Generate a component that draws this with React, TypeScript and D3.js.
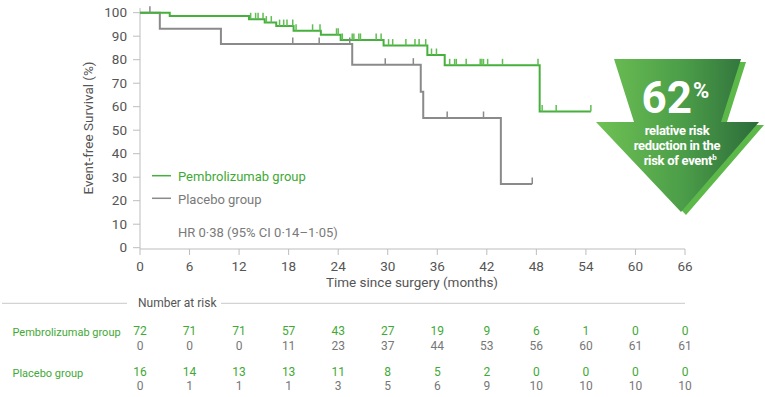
import React from "react";
import * as d3 from "d3";

// Kaplan-Meier steps [month, survival %]
const pembroSteps: [number, number][] = [
  [0, 100], [3.6, 98.6], [13.2, 97.2], [15.1, 95.8], [16.5, 94.3], [18.6, 92.3],
  [21.9, 90.6], [24.3, 88.4], [29.5, 86.0], [34.8, 82.0], [36.9, 77.6], [48.4, 58.0],
];
const pembroEnd = 54.6;
const placeboSteps: [number, number][] = [
  [0, 100], [2.4, 93.2], [9.8, 86.7], [25.7, 77.9], [34.0, 66.4], [34.3, 55.2], [43.7, 27.1],
];
const placeboEnd = 47.5;

const pembroCensor = [
  13.4, 14.0, 14.3, 14.9, 15.3, 15.9, 16.9, 17.4, 17.8, 18.5, 18.9, 20.9, 21.8, 23.8, 24.0,
  24.5, 25.7, 25.9, 26.5, 26.7, 28.6, 29.2, 30.1, 30.6, 32.2, 33.3, 33.8, 34.6, 35.3, 35.9,
  37.5, 38.1, 38.3, 39.5, 41.2, 41.4, 41.6, 42.1, 43.9, 48.2, 48.7, 50.4, 54.6,
];
const placeboCensor = [1.2, 18.5, 21.7, 25.4, 29.7, 33.1, 37.2, 41.6, 47.5];

const xTicks = [0, 6, 12, 18, 24, 30, 36, 42, 48, 54, 60, 66];
const yTicks = [0, 10, 20, 30, 40, 50, 60, 70, 80, 90, 100];

const pembroAtRisk = [72, 71, 71, 57, 43, 27, 19, 9, 6, 1, 0, 0];
const pembroCensored = [0, 0, 0, 11, 23, 37, 44, 53, 56, 60, 61, 61];
const placeboAtRisk = [16, 14, 13, 13, 11, 8, 5, 2, 0, 0, 0, 0];
const placeboCensored = [0, 1, 1, 1, 3, 5, 6, 9, 10, 10, 10, 10];

const GREEN = "#45b03c";
const GREY = "#8a8a8a";
const TEXT = "#555";
const FONT = "Roboto, 'Noto Sans', sans-serif";

const x = d3.scaleLinear().domain([0, 66]).range([140, 685]);
const y = d3.scaleLinear().domain([0, 100]).range([247.7, 12.7]);

function stepValue(steps: [number, number][], t: number) {
  let v = steps[0][1];
  for (const [st, sv] of steps) if (st <= t) v = sv;
  return v;
}

function stepPath(steps: [number, number][], end: number) {
  const pts: [number, number][] = [...steps, [end, steps[steps.length - 1][1]]];
  const line = d3
    .line<[number, number]>()
    .x((d) => x(d[0]))
    .y((d) => y(d[1]))
    .curve(d3.curveStepAfter);
  return line(pts) || "";
}

export default function App() {
  return (
    <svg
      width={765}
      height={397}
      style={{ position: "absolute", left: 0, top: 0, background: "#fff" }}
      fontFamily={FONT}
    >
      <defs>
        <linearGradient id="arrowGrad" x1="0" x2="1" y1="0" y2="0">
          <stop offset="0%" stopColor="#6fc253" />
          <stop offset="55%" stopColor="#4a9c48" />
          <stop offset="100%" stopColor="#2c6b3a" />
        </linearGradient>
      </defs>

      {/* axes */}
      <line x1={140} x2={140} y1={8} y2={249} stroke="#bdbdbd" strokeWidth={1} />
      <line x1={140} x2={685} y1={249} y2={249} stroke="#bdbdbd" strokeWidth={1} />
      {yTicks.map((t) => (
        <g key={"y" + t}>
          <line x1={133} x2={140} y1={y(t)} y2={y(t)} stroke="#bdbdbd" />
          <text x={127} y={y(t)} dy="0.35em" textAnchor="end" fontSize={13.5} fill={TEXT}>
            {t}
          </text>
        </g>
      ))}
      {xTicks.map((t) => (
        <g key={"x" + t}>
          <line x1={x(t)} x2={x(t)} y1={249} y2={255} stroke="#bdbdbd" />
          <text x={x(t)} y={271} textAnchor="middle" fontSize={13.5} fill={TEXT}>
            {t}
          </text>
        </g>
      ))}
      <text x={412} y={287} textAnchor="middle" fontSize={13.5} fill={TEXT}>
        Time since surgery (months)
      </text>
      <text
        transform="translate(93,128) rotate(-90)"
        textAnchor="middle"
        fontSize={13.5}
        fill={TEXT}
      >
        Event-free Survival (%)
      </text>

      {/* curves */}
      <path d={stepPath(placeboSteps, placeboEnd)} fill="none" stroke={GREY} strokeWidth={2} />
      <path d={stepPath(pembroSteps, pembroEnd)} fill="none" stroke={GREEN} strokeWidth={2} />
      {placeboCensor.map((t, i) => (
        <line
          key={"pc" + i}
          x1={x(t)}
          x2={x(t)}
          y1={y(stepValue(placeboSteps, t))}
          y2={y(stepValue(placeboSteps, t)) - 6.5}
          stroke={GREY}
          strokeWidth={1.5}
        />
      ))}
      {pembroCensor.map((t, i) => (
        <line
          key={"gc" + i}
          x1={x(t)}
          x2={x(t)}
          y1={y(stepValue(pembroSteps, t))}
          y2={y(stepValue(pembroSteps, t)) - 6.5}
          stroke="#62bd55"
          strokeWidth={1.5}
        />
      ))}

      {/* legend */}
      <line x1={152} x2={171} y1={175.7} y2={175.7} stroke={GREEN} strokeWidth={1.5} />
      <text x={178} y={181} fontSize={13} fill="#3fa936">Pembrolizumab group</text>
      <line x1={152} x2={171} y1={198.3} y2={198.3} stroke={GREY} strokeWidth={1.5} />
      <text x={178} y={204} fontSize={13} fill="#7a7a7a">Placebo group</text>
      <text x={178} y={237} fontSize={13} fill="#7a7a7a">HR 0·38 (95% CI 0·14–1·05)</text>

      {/* arrow callout */}
      <polygon
        points="619,62 746,62 726,125 764,125 686,215 601,125 639,125"
        fill="#5db84a"
      />
      <polygon
        points="614,59 741,59 721,122 759,122 681,212 596,122 634,122"
        fill="url(#arrowGrad)"
      />
      <text x={692} y={113} textAnchor="end" fontSize={44} fontWeight={700} fill="#fff">
        62
      </text>
      <text x={693} y={98} fontSize={22} fontWeight={700} fill="#fff">
        %
      </text>
      <text textAnchor="middle" fontSize={13} fontWeight={700} fill="#fff" letterSpacing={-0.3}>
        <tspan x={677} y={135}>relative risk</tspan>
        <tspan x={677} y={150}>reduction in the</tspan>
        <tspan x={680} y={165}>
          risk of event
          <tspan fontSize={8} dy={-5}>b</tspan>
        </tspan>
      </text>

      {/* risk table */}
      <line x1={2} x2={127} y1={303.3} y2={303.3} stroke="#c8c8c8" />
      <line x1={221} x2={685} y1={303.3} y2={303.3} stroke="#c8c8c8" />
      <text x={138} y={306.5} fontSize={12} fill={TEXT}>Number at risk</text>
      <text x={12.5} y={336} fontSize={11} fill="#3fa936">Pembrolizumab group</text>
      <text x={12.5} y={377} fontSize={11} fill="#3fa936">Placebo group</text>
      {xTicks.map((t, i) => (
        <g key={"r" + t} fontSize={12} textAnchor="middle">
          <text x={x(t)} y={334.5} fill="#3fa936">{pembroAtRisk[i]}</text>
          <text x={x(t)} y={349.5} fill="#777">{pembroCensored[i]}</text>
          <text x={x(t)} y={375.5} fill="#3fa936">{placeboAtRisk[i]}</text>
          <text x={x(t)} y={390} fill="#777">{placeboCensored[i]}</text>
        </g>
      ))}
    </svg>
  );
}
